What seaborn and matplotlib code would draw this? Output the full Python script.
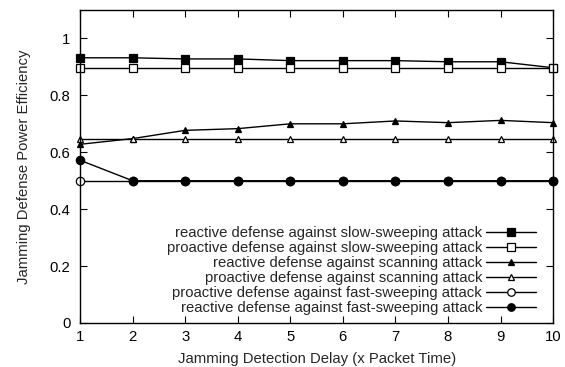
import matplotlib
matplotlib.use("Agg")
import matplotlib.pyplot as plt
import seaborn as sns
import pandas as pd

delays = [1, 2, 3, 4, 5, 6, 7, 8, 9, 10]
reactive_slow = [0.932, 0.932, 0.928, 0.928, 0.922, 0.922, 0.922, 0.918, 0.918, 0.897]
proactive_slow = [0.897] * 10
reactive_scan = [0.628, 0.648, 0.677, 0.683, 0.700, 0.700, 0.710, 0.704, 0.712, 0.704]
proactive_scan = [0.646] * 10
proactive_fast = [0.5] * 10
reactive_fast = [0.572, 0.5, 0.5, 0.5, 0.5, 0.5, 0.5, 0.5, 0.5, 0.5]

labels = [
    "reactive defense against slow-sweeping attack",
    "proactive defense against slow-sweeping attack",
    "reactive defense against scanning attack",
    "proactive defense against scanning attack",
    "proactive defense against fast-sweeping attack",
    "reactive defense against fast-sweeping attack",
]
series = [reactive_slow, proactive_slow, reactive_scan, proactive_scan, proactive_fast, reactive_fast]
markers = ["s", "s", "^", "^", "o", "o"]
filled = [True, False, True, False, False, True]
msizes = [6.3, 6.3, 5, 5, 6, 6]

sns.set_style("ticks")
plt.rcParams['font.family'] = ['Liberation Sans', 'DejaVu Sans']

FS = 10.7
fig = plt.figure(figsize=(5.65, 3.67), dpi=100)
ax = fig.add_axes([0.1416, 0.1199, 0.979 - 0.1416, 0.9728 - 0.1199])

for lab, vals, m, f, ms in zip(labels, series, markers, filled, msizes):
    df = pd.DataFrame({"x": delays, "y": vals})
    sns.lineplot(data=df, x="x", y="y", ax=ax, color="black", linewidth=1.0,
                 marker=m, markersize=ms, markeredgecolor="black",
                 markerfacecolor="black" if f else "white", markeredgewidth=0.9,
                 label=lab, clip_on=False)

ax.set_xlim(1, 10)
ax.set_ylim(0, 1.1)
ax.set_xticks(delays)
ax.set_yticks([0, 0.2, 0.4, 0.6, 0.8, 1.0])
ax.set_yticklabels(["0", "0.2", "0.4", "0.6", "0.8", "1"])
ax.tick_params(direction="in", top=True, right=True, length=5, width=0.8,
               labelsize=FS, colors="black")
ax.tick_params(axis="y", pad=7)
ax.tick_params(axis="x", pad=5)
for s in ax.spines.values():
    s.set_linewidth(1.0)
    s.set_color("black")
ax.set_xlabel("Jamming Detection Delay (x Packet Time)", fontsize=FS, labelpad=6)
ax.set_ylabel("Jamming Defense Power Efficiency", fontsize=FS, labelpad=13)

leg = ax.legend(loc="lower right", frameon=False, markerfirst=False, fontsize=FS,
                handlelength=3.4, handletextpad=0.25, labelspacing=0.07,
                borderaxespad=0.0, bbox_to_anchor=(0.977, 0.005), markerscale=0.9)
for t in leg.get_texts():
    t.set_ha("right")
leg._legend_box.align = "right"

fig.savefig("out.png", dpi=100)
